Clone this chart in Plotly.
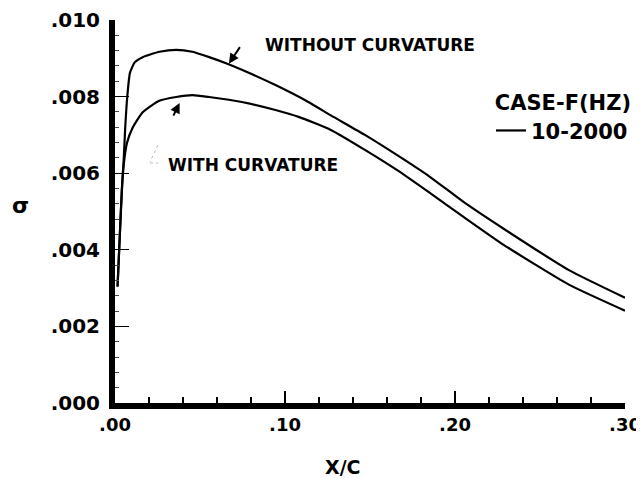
import plotly.graph_objects as go

# Data
x_without = [0.0015, 0.0030, 0.0042, 0.0052, 0.0060, 0.0072, 0.0088, 0.0117, 0.0163, 0.0262,
             0.036, 0.0455, 0.0554, 0.0653, 0.0746, 0.0944, 0.1137, 0.127, 0.147, 0.166,
             0.1854, 0.205, 0.2286, 0.267, 0.300]
y_without = [0.00304, 0.00455, 0.00567, 0.00642, 0.00718, 0.00799, 0.00862, 0.0089, 0.00903, 0.00917,
             0.00922, 0.00917, 0.00903, 0.00887, 0.0087, 0.0083, 0.00786, 0.00751, 0.0070, 0.00647,
             0.0059, 0.00525, 0.00455, 0.00347, 0.00275]

x_with = [0.0015, 0.0030, 0.0040, 0.0050, 0.0070, 0.0105, 0.0163, 0.026, 0.036, 0.0455,
          0.0554, 0.0746, 0.0944, 0.108, 0.127, 0.147, 0.166, 0.1854, 0.205, 0.2286,
          0.267, 0.300]
y_with = [0.00304, 0.00455, 0.00556, 0.00617, 0.00678, 0.0072, 0.00759, 0.00789, 0.00799, 0.00804,
          0.00799, 0.00786, 0.00765, 0.00747, 0.00713, 0.00661, 0.00608, 0.00548, 0.00486, 0.00413,
          0.00309, 0.00241]

x_tickvals = [0.0, 0.10, 0.20, 0.30]
x_ticktext = [".00", ".10", ".20", ".30"]
y_tickvals = [0.000, 0.002, 0.004, 0.006, 0.008, 0.010]
y_ticktext = [".000", ".002", ".004", ".006", ".008", ".010"]

FONT = "DejaVu Sans"

# page is offset by the 8px body margin; plot area spans page x 115..625, y 20..403
PW, PH = 510, 383


def px(xp):
    return (xp - 115) / PW


def py(yp):
    return (403 - yp) / PH


fig = go.Figure()
fig.add_trace(go.Scatter(x=x_without, y=y_without, mode="lines", name="10-2000",
                         line=dict(color="black", width=2.2, shape="spline", smoothing=0.5),
                         showlegend=True))
fig.add_trace(go.Scatter(x=x_with, y=y_with, mode="lines", name="with",
                         line=dict(color="black", width=2.2, shape="spline", smoothing=0.5),
                         showlegend=False))

fig.update_layout(
    width=636, height=471,
    margin=dict(l=107, r=19, t=12, b=76, autoexpand=False),
    paper_bgcolor="white", plot_bgcolor="white",
    font=dict(family=FONT, color="black", size=18, weight="bold"),
    legend=dict(x=px(633), xanchor="right", y=py(83), yanchor="top",
                bgcolor="rgba(0,0,0,0)",
                title=dict(text="CASE-F(HZ)", side="top right",
                           font=dict(family=FONT, size=21, weight="bold")),
                font=dict(family=FONT, size=21, weight="bold")),
    xaxis=dict(range=[0, 0.30], showgrid=False, zeroline=False, automargin=False,
               showline=True, linecolor="black", linewidth=6,
               tickvals=x_tickvals, ticktext=x_ticktext, ticklabeloverflow="allow",
               ticks="inside", ticklen=12, tickwidth=1.5, tickcolor="black",
               minor=dict(ticks="inside", ticklen=6, dtick=0.02, tickwidth=1.5, tickcolor="black"),
               tickfont=dict(family=FONT, size=18, weight="bold")),
    yaxis=dict(range=[0, 0.010], showgrid=False, zeroline=False, automargin=False,
               showline=True, linecolor="black", linewidth=6,
               tickvals=y_tickvals, ticktext=y_ticktext, ticklabeloverflow="allow",
               ticklabelstandoff=5,
               ticks="inside", ticklen=14, tickwidth=1.2, tickcolor="black",
               minor=dict(ticks="inside", ticklen=4, dtick=0.0004, tickwidth=1, tickcolor="#444"),
               tickfont=dict(family=FONT, size=20, weight="bold")),
)

fig.add_annotation(x=0.150, y=0.00935, xref="x", yref="y", text="WITHOUT CURVATURE",
                   showarrow=False, font=dict(family=FONT, size=17, weight="bold"))
fig.add_annotation(x=0.081, y=0.00621, xref="x", yref="y", text="WITH CURVATURE",
                   showarrow=False, font=dict(family=FONT, size=17, weight="bold"))
# pointers
fig.add_annotation(x=0.067, y=0.00886, xref="x", yref="y", text="", showarrow=True,
                   ax=12, ay=-18, arrowhead=2, arrowsize=1, arrowwidth=2, arrowcolor="black")
fig.add_annotation(x=0.038, y=0.00783, xref="x", yref="y", text="", showarrow=True,
                   ax=-7, ay=14, arrowhead=2, arrowsize=1, arrowwidth=2, arrowcolor="black")
# faint leader mark near "WITH CURVATURE"
fig.add_shape(type="line", xref="paper", yref="paper",
              x0=px(158), y0=py(145), x1=px(150), y1=py(162),
              line=dict(color="#bbbbbb", width=1, dash="dot"))
fig.add_shape(type="line", xref="paper", yref="paper",
              x0=px(150), y0=py(163), x1=px(158), y1=py(163),
              line=dict(color="#bbbbbb", width=1, dash="dot"))

fig.add_annotation(x=px(343), y=py(467), xref="paper", yref="paper", text="X/C",
                   showarrow=False, xanchor="center", yanchor="middle",
                   font=dict(family=FONT, size=19, weight="bold"))
fig.add_annotation(x=px(20), y=py(205), xref="paper", yref="paper", text="σ",
                   showarrow=False, xanchor="center", yanchor="middle",
                   font=dict(family=FONT, size=22, weight="bold"))

fig.write_html("out.html")
